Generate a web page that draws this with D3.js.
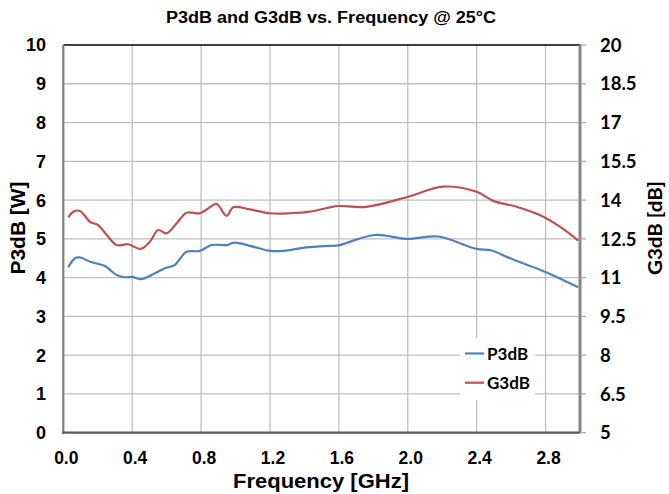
<!DOCTYPE html>
<html>
<head>
<meta charset="utf-8">
<script src="https://cdn.jsdelivr.net/npm/d3@7"></script>
<style>
  html, body { margin: 0; padding: 0; background: #fff; }
  svg { display: block; }
</style>
</head>
<body>
<svg id="chart" width="669" height="494"></svg>
<script>
// ---- data ----
const p3dbFreq = [0.029, 0.068, 0.097, 0.155, 0.242, 0.271, 0.31, 0.358, 0.397, 0.455, 0.513, 0.59, 0.648, 0.687, 0.716, 0.793, 0.861, 0.948, 0.99, 1.084, 1.2, 1.277, 1.41, 1.548, 1.596, 1.809, 1.993, 2.177, 2.399, 2.486, 2.593, 2.747, 2.883, 2.99];
const p3dbValues = [4.27, 4.50, 4.52, 4.41, 4.30, 4.20, 4.07, 4.01, 4.02, 3.96, 4.07, 4.24, 4.33, 4.54, 4.67, 4.69, 4.84, 4.84, 4.90, 4.82, 4.69, 4.69, 4.78, 4.82, 4.83, 5.10, 5.00, 5.06, 4.74, 4.70, 4.50, 4.24, 3.98, 3.75];
const g3dbFreq = [0.029, 0.058, 0.097, 0.155, 0.203, 0.252, 0.31, 0.377, 0.449, 0.503, 0.551, 0.6, 0.658, 0.716, 0.793, 0.842, 0.89, 0.948, 0.987, 1.084, 1.2, 1.316, 1.432, 1.548, 1.596, 1.761, 1.993, 2.205, 2.399, 2.496, 2.631, 2.766, 2.883, 2.99];
const g3dbValues = [13.33, 13.55, 13.58, 13.16, 13.03, 12.65, 12.26, 12.29, 12.11, 12.39, 12.84, 12.71, 13.10, 13.51, 13.49, 13.68, 13.85, 13.39, 13.72, 13.64, 13.49, 13.49, 13.55, 13.72, 13.77, 13.74, 14.11, 14.52, 14.32, 13.97, 13.74, 13.42, 12.97, 12.43];
const xTicks = [0.0, 0.4, 0.8, 1.2, 1.6, 2.0, 2.4, 2.8];
const leftTicks = [0, 1, 2, 3, 4, 5, 6, 7, 8, 9, 10];
const rightTicks = [5, 6.5, 8, 9.5, 11, 12.5, 14, 15.5, 17, 18.5, 20];
const seriesNames = ["P3dB", "G3dB"];
const titleText = "P3dB and G3dB vs. Frequency @ 25°C";

// ---- layout ----
const svg = d3.select("#chart");
const L = 63.3, R = 580, T = 45, B = 432.7;
const x = d3.scaleLinear().domain([0, 3]).range([L, R]);
const yL = d3.scaleLinear().domain([0, 10]).range([B, T]);
const yR = d3.scaleLinear().domain([5, 20]).range([B, T]);

const arial = "'Liberation Sans', Arial, sans-serif";
const calibri = "Lato, 'Open Sans', sans-serif";

// gridlines
const grid = svg.append("g");
grid.selectAll("line.h").data(leftTicks.slice(1, -1)).join("line")
  .attr("x1", L).attr("x2", R).attr("y1", d => yL(d)).attr("y2", d => yL(d))
  .attr("stroke", "#bfbfbf").attr("stroke-width", 1.3);
grid.selectAll("line.v").data(xTicks.slice(1)).join("line")
  .attr("x1", d => x(d)).attr("x2", d => x(d)).attr("y1", T).attr("y2", B)
  .attr("stroke", "#bfbfbf").attr("stroke-width", 1.3);

// series lines
const lineP = d3.line().x((d, i) => x(p3dbFreq[i])).y(d => yL(d)).curve(d3.curveCatmullRom.alpha(0.5));
const lineG = d3.line().x((d, i) => x(g3dbFreq[i])).y(d => yR(d)).curve(d3.curveCatmullRom.alpha(0.5));
svg.append("path").attr("d", lineP(p3dbValues)).attr("fill", "none")
  .attr("stroke", "#4f81bd").attr("stroke-width", 2.2);
svg.append("path").attr("d", lineG(g3dbValues)).attr("fill", "none")
  .attr("stroke", "#c0504d").attr("stroke-width", 2.2);

// frame axes
svg.append("line").attr("x1", L).attr("x2", R).attr("y1", T).attr("y2", T)
  .attr("stroke", "#000").attr("stroke-width", 1.5);
svg.append("line").attr("x1", R).attr("x2", R).attr("y1", T).attr("y2", B)
  .attr("stroke", "#868686").attr("stroke-width", 3);
svg.append("line").attr("x1", L).attr("x2", L).attr("y1", T).attr("y2", B + 1)
  .attr("stroke", "#7f7f7f").attr("stroke-width", 2.2);
svg.append("line").attr("x1", L - 1).attr("x2", R).attr("y1", B).attr("y2", B)
  .attr("stroke", "#595959").attr("stroke-width", 2.2);

// right ticks
svg.append("g").selectAll("line").data(rightTicks).join("line")
  .attr("x1", R).attr("x2", R + 6).attr("y1", d => yR(d)).attr("y2", d => yR(d))
  .attr("stroke", "#a6a6a6").attr("stroke-width", 1.2);

// left tick labels
svg.append("g").selectAll("text").data(leftTicks).join("text")
  .attr("x", 46).attr("y", d => yL(d)).attr("dy", "0.36em")
  .attr("text-anchor", "end").attr("font-family", arial).attr("font-weight", "bold")
  .attr("font-size", 18).text(d => d);

// right tick labels
svg.append("g").selectAll("text").data(rightTicks).join("text")
  .attr("x", 600).attr("y", d => yR(d)).attr("dy", "0.36em")
  .attr("text-anchor", "start").attr("font-family", calibri).attr("font-weight", "bold")
  .attr("font-size", 18.5).text(d => d);

// x tick labels
svg.append("g").selectAll("text").data(xTicks).join("text")
  .attr("x", d => x(d) + 3).attr("y", 458).attr("dy", "0.36em")
  .attr("text-anchor", "middle").attr("font-family", arial).attr("font-weight", "bold")
  .attr("font-size", 17.5).text(d => d.toFixed(1));

// axis titles
svg.append("text").attr("x", 321).attr("y", 481).attr("dy", "0.36em")
  .attr("text-anchor", "middle").attr("font-family", arial).attr("font-weight", "bold")
  .attr("font-size", 20).attr("textLength", 176).attr("lengthAdjust", "spacingAndGlyphs")
  .text("Frequency [GHz]");
svg.append("text").attr("transform", "translate(18,228) rotate(-90)").attr("dy", "0.36em")
  .attr("text-anchor", "middle").attr("font-family", arial).attr("font-weight", "bold")
  .attr("font-size", 20).attr("textLength", 93).attr("lengthAdjust", "spacingAndGlyphs")
  .text("P3dB [W]");
svg.append("text").attr("transform", "translate(656,228) rotate(-90)").attr("dy", "0.36em")
  .attr("text-anchor", "middle").attr("font-family", calibri).attr("font-weight", "bold")
  .attr("font-size", 18).attr("textLength", 94).attr("lengthAdjust", "spacingAndGlyphs")
  .text("G3dB [dB]");

// title
svg.append("text").attr("x", 331).attr("y", 17).attr("dy", "0.36em")
  .attr("text-anchor", "middle").attr("font-family", arial).attr("font-weight", "bold")
  .attr("font-size", 16).attr("textLength", 330).attr("lengthAdjust", "spacingAndGlyphs")
  .text(titleText);

// legend
const lg = svg.append("g");
lg.append("rect").attr("x", 460).attr("y", 338).attr("width", 75).attr("height", 62).attr("fill", "#fff");
const colors = ["#4f81bd", "#c0504d"];
const legY = [353.5, 382.7];
seriesNames.forEach((name, i) => {
  lg.append("line").attr("x1", 465).attr("x2", 484).attr("y1", legY[i]).attr("y2", legY[i])
    .attr("stroke", colors[i]).attr("stroke-width", 2.2);
  lg.append("text").attr("x", 487).attr("y", legY[i]).attr("dy", "0.36em")
    .attr("font-family", calibri).attr("font-weight", "bold").attr("font-size", 17).text(name);
});
</script>
</body>
</html>
